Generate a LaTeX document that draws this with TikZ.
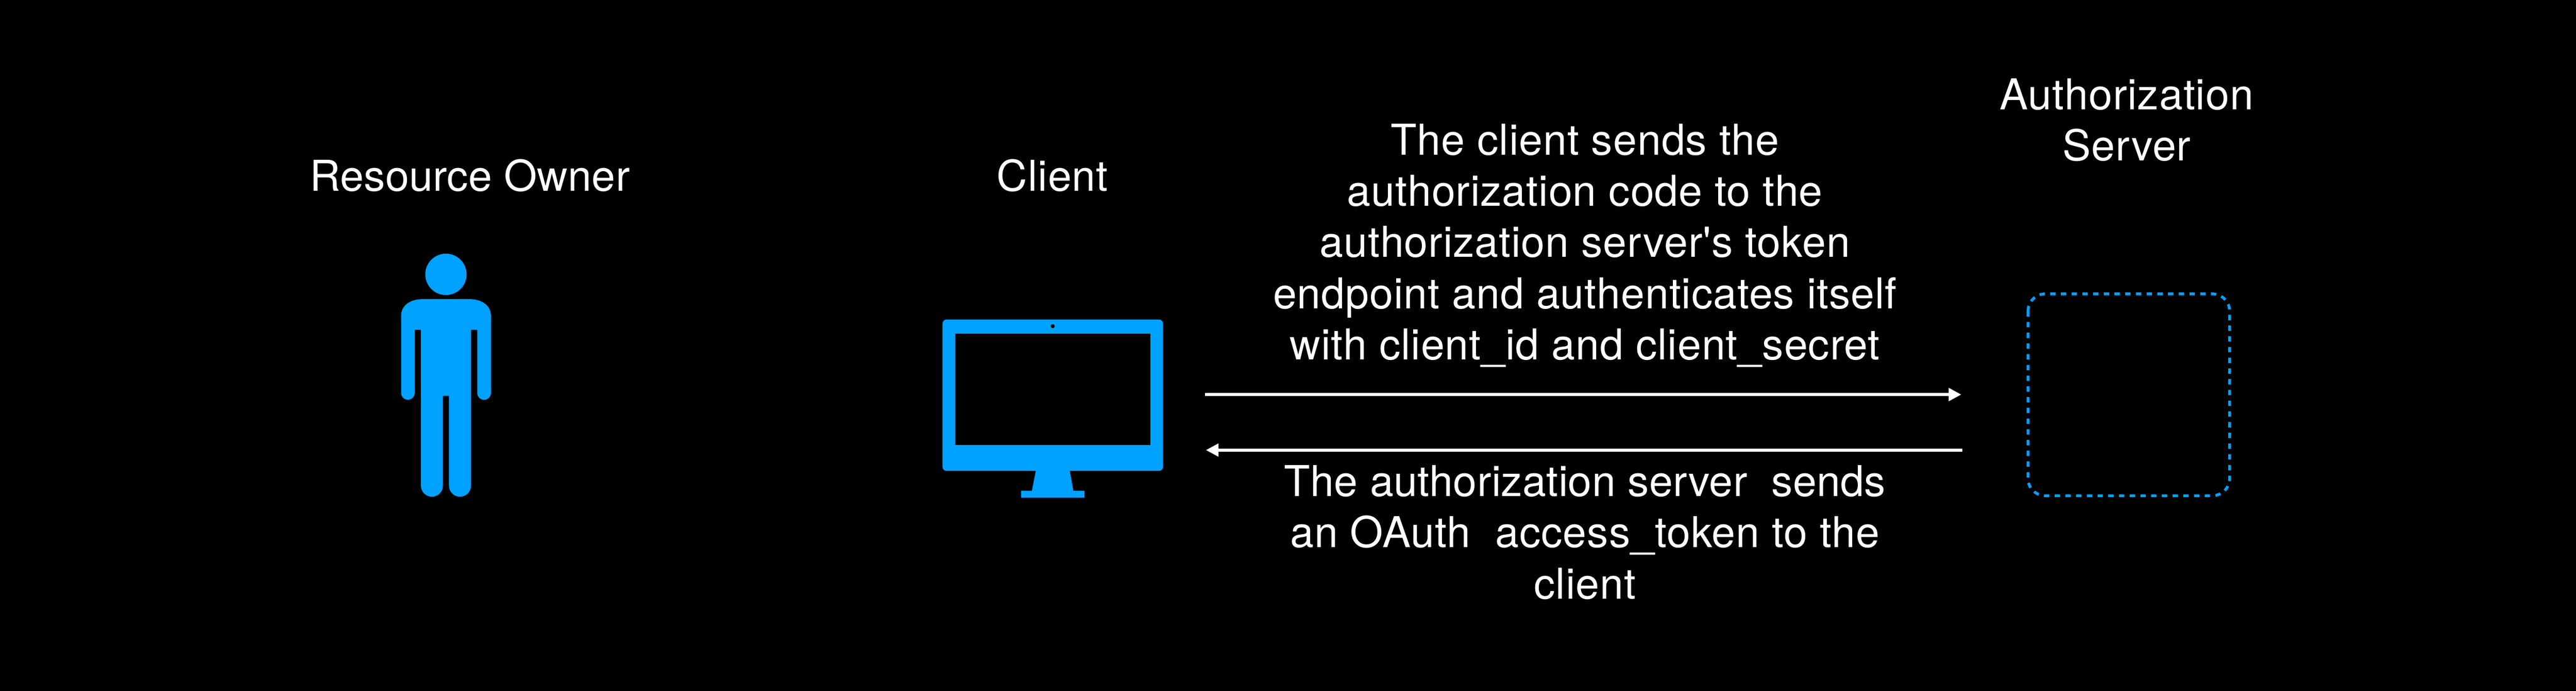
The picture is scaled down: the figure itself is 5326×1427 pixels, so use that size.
\documentclass[tikz,border=0pt]{standalone}
\usepackage{fontspec}
\newfontfamily\labelfont[LetterSpace=1.2]{TeX Gyre Heros}
\newfontfamily\ownerfont[LetterSpace=0.3]{TeX Gyre Heros}
\newfontfamily\tightfont[LetterSpace=0.5]{TeX Gyre Heros}
\usetikzlibrary{arrows.meta}
\definecolor{iconblue}{HTML}{00A2FF}
\tikzset{
  px/.style={x=0.01cm,y=-0.01cm},
  label text/.style={text=white,font=\labelfont\fontsize{25}{30.07}\selectfont,align=center,inner sep=0pt,anchor=base},
  flow/.style={draw=white,line width=1.7pt,-{Triangle[length=7.4pt,width=7.4pt]}},
  icon/.style={fill=iconblue,draw=none},
  dashbox/.style={draw=iconblue,line width=1.65pt,rounded corners=10.2pt,dash pattern=on 3.15pt off 3.15pt}
}
\begin{document}
\begin{tikzpicture}[px]
\useasboundingbox[fill=black] (0,0) rectangle (5326,1427);
% labels
\node[label text,font=\ownerfont\fontsize{25}{30.07}\selectfont] (owner) at (971.5,395) {Resource Owner};
\node[label text] (client) at (2176,395) {Client};
\node[label text] (server) at (4397,331.7) {Authorization\\Server};
\node[label text] (request) at (3277,743) {The client sends the\\authorization code to the\\authorization server's token\\endpoint and authenticates itself\\with client\_id and client\_secret};
\node[label text] (response) at (3277,1236.7) {{\tightfont The authorization server\ \ sends}\\an OAuth\ \ access\_token to the\\client};
% person
\fill[icon] (922,566.7) circle (42.7);
\fill[icon] (829.3,652)
  .. controls (829.3,630) and (850,618) .. (872,618) -- (972,618)
  .. controls (994,618) and (1015,630) .. (1015,652)
  -- (1015,811.8) arc[start angle=0,end angle=180,x radius=14.15,y radius=14.15]
  -- (986.7,681.3) -- (973.7,681.3) -- (973.7,1003.3)
  arc[start angle=0,end angle=180,x radius=22.7,y radius=22.7] -- (928.3,817.7) -- (915.7,817.7) -- (915.7,1003.3)
  arc[start angle=0,end angle=180,x radius=22.7,y radius=22.7] -- (870.3,681.3) -- (857.3,681.3) -- (857.3,811.8)
  arc[start angle=0,end angle=180,x radius=14,y radius=14] -- cycle;
% monitor
\fill[icon,rounded corners=2.4pt] (1948.6,660) rectangle (2404.5,972.7);
\fill[black] (1974.7,689.3) rectangle (2378.3,919.7);
\fill[black] (2176.5,673.7) circle (4.2);
\fill[icon] (2141.7,972) -- (2211.6,972) -- (2219.2,1013.7) -- (2242,1013.7) -- (2242,1028) -- (2111,1028) -- (2111,1013.7) -- (2133.5,1013.7) -- cycle;
% authorization server placeholder
\draw[dashbox] (4192.9,607) rectangle (4609.8,1024);
% connectors
\coordinate (a1s) at (2491,815);
\coordinate (a1e) at (4055,815);
\coordinate (a2s) at (4057,929.7);
\coordinate (a2e) at (2493.3,929.7);
\draw[flow] (a1s) -- (a1e);
\draw[flow] (a2s) -- (a2e);
\end{tikzpicture}
\end{document}
